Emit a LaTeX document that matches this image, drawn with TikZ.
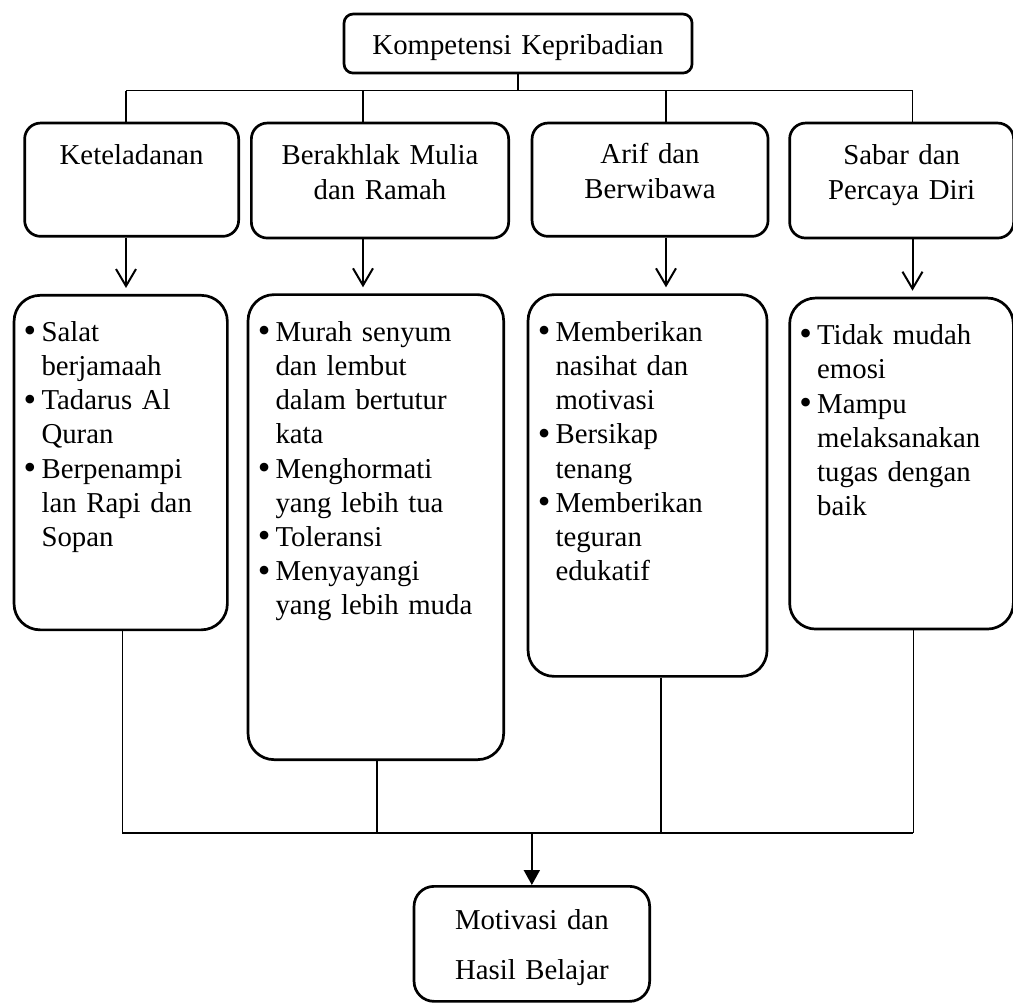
\documentclass[tikz,border=0pt]{standalone}
\usepackage{fontspec}
\setmainfont{Liberation Serif}
\usetikzlibrary{arrows.meta}
\newcommand\itm[1]{\noindent\hangindent=17.5pt\hangafter=1\makebox[17.5pt][l]{\kern-0.3pt\smash{\raisebox{-1.3pt}{\fontsize{36}{36}\selectfont•}}}#1\par}
\begin{document}
\begin{tikzpicture}[x=1pt,y=-1pt,
  box/.style={draw,line width=2.7pt,anchor=north west,inner ysep=0pt,inner xsep=10pt},
  hd/.style={box,align=center,rounded corners=16pt,font=\fontsize{28.8}{35}\selectfont},
  lst/.style={box,align=left,rounded corners=26pt,font=\fontsize{28.8}{34.2}\selectfont},
  link/.style={line width=1.2pt},
  link2/.style={line width=1.6pt},
  down/.style={line width=2pt,shorten >=6pt,-{Straight Barb[length=17pt,width=20pt]}},
  tri/.style={line width=2pt,-{Triangle[length=15pt,width=16pt]}}]
\useasboundingbox (0,0) rectangle (1013,1003);

% top
\node[hd,rounded corners=9pt,text width=328pt,text height=40pt,text depth=19pt] (t) at (342.7,12.7) {Kompetensi Kepribadian};

% level 2
\node[hd,text width=194pt,text height=41.3pt,text depth=72pt] (k2) at (23.3,121.7) {Keteladanan};
\node[hd,text width=237.3pt,text height=41.3pt,text depth=73.7pt] (b2) at (250,121.7) {Berakhlak Mulia\\dan Ramah};
\node[hd,text width=216pt,text height=40pt,text depth=73.3pt] (a2) at (530.7,121.7) {Arif dan\\Berwibawa};
\node[hd,text width=204pt,text height=41.6pt,text depth=73.4pt] (s2) at (788.3,121.7) {Sabar dan\\Percaya Diri};

% level 3
\node[lst,text width=193.3pt,text height=46pt,text depth=288.5pt] (k3) at (12.7,294) {%
\itm{Salat\newline berjamaah}\itm{Tadarus Al\newline Quran}\itm{Berpenampi\newline lan Rapi dan\newline Sopan}};
\node[lst,text width=235.6pt,text height=46.7pt,text depth=418.3pt] (b3) at (246.7,293.3) {%
\itm{Murah senyum\newline dan lembut\newline dalam bertutur\newline kata}\itm{Menghormati\newline yang lebih tua}\itm{Toleransi}\itm{Menyayangi\newline yang lebih muda}};
\node[lst,text width=219pt,text height=46.7pt,text depth=335pt] (a3) at (526.7,293.3) {%
\itm{Memberikan\newline nasihat dan\newline motivasi}\itm{Bersikap\newline tenang}\itm{Memberikan\newline teguran\newline edukatif}};
\node[lst,text width=203.7pt,text height=46.6pt,text depth=284.4pt] (s3) at (788.3,296.7) {%
\itm{Tidak mudah\newline emosi}\itm{Mampu\newline melaksanakan\newline tugas dengan\newline baik}};

% bottom
\node[hd,rounded corners=20pt,font=\fontsize{28.8}{50}\selectfont,text width=215.6pt,text height=43.3pt,text depth=71.7pt] (m) at (412.7,885) {Motivasi dan\\Hasil Belajar};

% top connectors
\coordinate (c1) at (126,0);
\coordinate (c2) at (363,0);
\coordinate (c3) at (666,0);
\coordinate (c4) at (912.5,0);
\coordinate (bt) at (0,90.7);
\draw[link] (t.south) -- (t.south |- bt);
\draw[link] (c1 |- bt) -- (c4 |- bt);
\draw[link] (c1 |- bt) -- (c1 |- k2.north);
\draw[link] (c2 |- bt) -- (c2 |- b2.north);
\draw[link] (c3 |- bt) -- (c3 |- a2.north);
\draw[link] (c4 |- bt) -- (c4 |- s2.north);

% arrows level 2 -> 3
\draw[down] (c1 |- k2.south) -- (c1 |- k3.north);
\draw[down] (c2 |- b2.south) -- (c2 |- b3.north);
\draw[down] (c3 |- a2.south) -- (c3 |- a3.north);
\draw[down] (c4 |- s2.south) -- (c4 |- s3.north);

% bottom connectors
\coordinate (d1) at (122.3,0);
\coordinate (d2) at (376.7,0);
\coordinate (d3) at (661,0);
\coordinate (d4) at (913.3,0);
\coordinate (bb) at (0,833);
\draw[link2] (d1 |- k3.south) -- (d1 |- bb);
\draw[link2] (d2 |- b3.south) -- (d2 |- bb);
\draw[link2] (d3 |- a3.south) -- (d3 |- bb);
\draw[link2] (d4 |- s3.south) -- (d4 |- bb);
\draw[line width=2.2pt] (d1 |- bb) -- (d4 |- bb);
\draw[tri] (m.north |- bb) -- (m.north);
\end{tikzpicture}
\end{document}
